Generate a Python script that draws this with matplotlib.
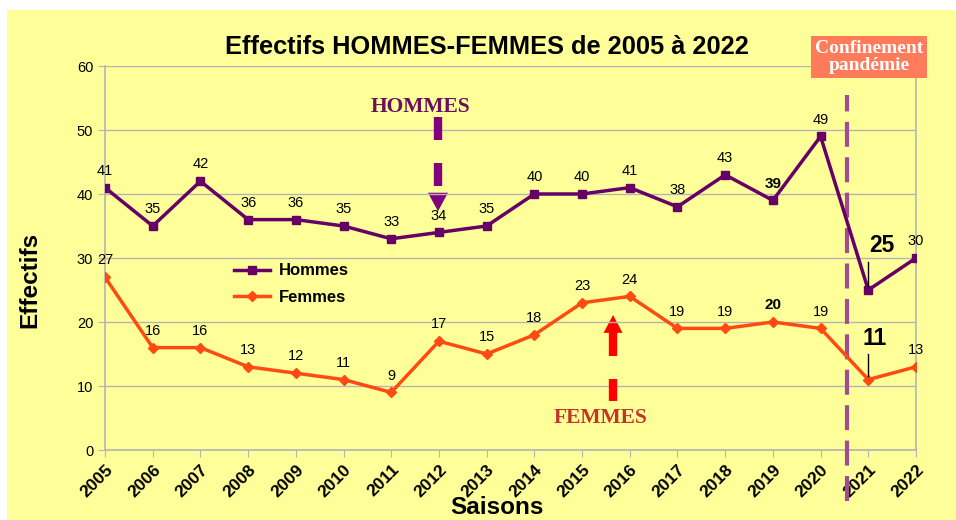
import numpy as np
import matplotlib.pyplot as plt
from matplotlib.patches import Rectangle

annees = list(range(2005, 2023))
hommes = [41, 35, 42, 36, 36, 35, 33, 34, 35, 40, 40, 41, 38, 43, 39, 49, 25, 30]
femmes = [27, 16, 16, 13, 12, 11, 9, 17, 15, 18, 23, 24, 19, 19, 20, 19, 11, 13]

c_h = '#660066'
c_f = '#FF4A12'
jaune = '#FFFF99'
gris = '#B4B4B4'

plt.rcParams['font.family'] = ['Liberation Sans', 'DejaVu Sans']

fig = plt.figure(figsize=(9.56, 5.2), dpi=100)
fig.patch.set_facecolor('white')
fig.patches.append(Rectangle((7 / 956, 0), 1, 1 - 10 / 520, transform=fig.transFigure,
                             facecolor=jaune, edgecolor='none', zorder=-10))

ax = fig.add_axes([105 / 956, 1 - 450 / 520, (916 - 105) / 956, (450 - 66) / 520])
ax.set_facecolor(jaune)

ax.plot(annees, hommes, color=c_h, lw=2.5, marker='s', ms=6, label='Hommes', zorder=4)
ax.plot(annees, femmes, color=c_f, lw=2.5, marker='D', ms=5.5, label='Femmes', zorder=4)

for x, h, f in zip(annees, hommes, femmes):
    if x == 2021:
        continue
    w = 'bold' if x == 2019 else 'normal'
    s = 11 if x == 2019 else 10.5
    ax.annotate(str(h), (x, h), xytext=(0, 7), textcoords='offset points',
                ha='center', va='bottom', fontsize=s, fontweight=w)
    ax.annotate(str(f), (x, f), xytext=(0, 7), textcoords='offset points',
                ha='center', va='bottom', fontsize=s, fontweight=w)

# 2021 : valeurs mises en avant
ax.text(2021.28, 30.2, str(hommes[16]), ha='center', va='bottom',
        fontsize=16.5, fontweight='bold')
ax.plot([2021, 2021], [hommes[16] + 0.6, 29.4], color='black', lw=1, zorder=5)
ax.text(2021.14, 15.7, str(femmes[16]), ha='center', va='bottom',
        fontsize=16.5, fontweight='bold')
ax.plot([2021, 2021], [femmes[16] + 0.6, 15.0], color='black', lw=1, zorder=5)

ax.set_xlim(2005, 2022)
ax.set_ylim(0, 60)
ax.set_xticks(annees)
ax.set_xticklabels([str(a) for a in annees], rotation=45, ha='right',
                   rotation_mode='anchor', fontsize=12.5, fontweight='bold')
ax.set_yticks(range(0, 61, 10))
ax.tick_params(axis='y', labelsize=10.5, color=gris, length=5)
ax.tick_params(axis='x', color=gris, length=5)
ax.grid(axis='y', color=gris, lw=1)
for sp in ax.spines.values():
    sp.set_color(gris)
    sp.set_linewidth(1.2)
ax.spines['top'].set_visible(False)

ax.set_xlabel('Saisons', fontsize=17.5, fontweight='bold')
ax.xaxis.set_label_coords(0.483, -0.12)
ax.set_ylabel('Effectifs', fontsize=17.5, fontweight='bold')
ax.yaxis.set_label_coords(-0.079, 0.443)
fig.text(487 / 956, 1 - 47 / 520, 'Effectifs HOMMES-FEMMES de 2005 à 2022',
         ha='center', va='center', fontsize=18.3, fontweight='bold')

ax.legend(loc='upper left', bbox_to_anchor=(0.14, 0.525), frameon=False,
          handlelength=2.2, handletextpad=0.5, labelspacing=0.7,
          prop={'weight': 'bold', 'size': 12})

# confinement
ax.plot([2020.55, 2020.55], [-8, 55.5], color='#A04C90', lw=3, ls=(0, (6, 2.5)),
        clip_on=False, zorder=3)
fig.text(869 / 956, 1 - 57 / 520, 'Confinement\npandémie', ha='center', va='center',
         fontsize=14, fontweight='bold', color='white', family='Liberation Serif',
         linespacing=0.95,
         bbox=dict(boxstyle='square,pad=0.2', facecolor='#FF7B5A', edgecolor='none'))

# flèches décoratives
px = 17 / 811  # unités de données par pixel en x
ax.text(2011.62, 53.6, 'HOMMES', color='#6B1060', fontsize=15.5, fontweight='bold',
        family='Liberation Serif', ha='center', va='center')
xh = 2011.98
for y0, y1 in [(52.0, 48.4), (44.8, 41.25)]:
    ax.plot([xh, xh], [y0, y1], color='#800080', lw=6, solid_capstyle='butt')
ax.fill([xh - 10 * px, xh + 10 * px, xh], [40.2, 40.2, 37.3], color='#800080', lw=0)

ax.text(2015.38, 5.0, 'FEMMES', color='#C8302A', fontsize=15.5, fontweight='bold',
        family='Liberation Serif', ha='center', va='center')
xf = 2015.65
for y0, y1 in [(18.4, 14.7), (11.1, 7.66)]:
    ax.plot([xf, xf], [y0, y1], color='#FF0000', lw=6, solid_capstyle='butt')
ax.fill([xf - 9.5 * px, xf + 9.5 * px, xf], [18.3, 18.3, 21.1], color='#FF0000', lw=0)

fig.savefig('out.png', dpi=100)
